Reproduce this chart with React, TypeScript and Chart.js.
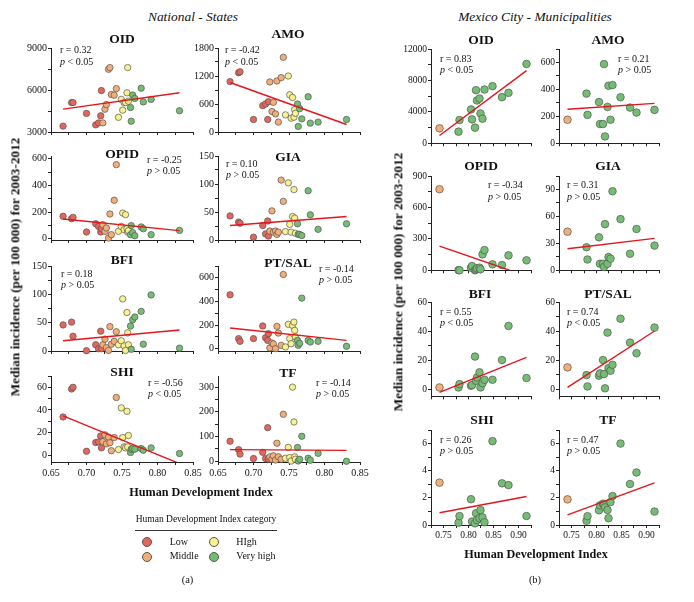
import React, { useEffect, useRef } from 'react';
import { Chart, registerables } from 'chart.js';

Chart.register(...registerables);

const SERIF = "'Liberation Serif', 'Times New Roman', Times, serif";

// ---------------- DATA ----------------
const DISEASES = ['OID', 'AMO', 'OPID', 'GIA', 'BFI', 'PT/SAL', 'SHI', 'TF'];
const LEGEND_LABELS = ['Low', 'Middle', 'HIgh', 'Very high'];
const CATEGORY_COLORS = ['#E5665C', '#F3AD76', '#F7F28E', '#74BE74'];

// National - States (32 states), HDI and HDI category (0 Low, 1 Middle, 2 High, 3 Very high)
const STATE_HDI = [
  0.667, 0.679, 0.681, 0.700, 0.713, 0.717, 0.720, 0.721,
  0.723, 0.726, 0.728, 0.731, 0.733, 0.735, 0.739, 0.742,
  0.745, 0.749, 0.751, 0.753, 0.755, 0.757, 0.758, 0.759,
  0.762, 0.763, 0.765, 0.768, 0.777, 0.780, 0.791, 0.831,
];
const STATE_CATEGORY = [
  0, 0, 0, 0, 0, 0, 0, 0,
  1, 1, 1, 1, 1, 1, 1, 1,
  2, 2, 2, 2, 2, 2, 2, 2,
  3, 3, 3, 3, 3, 3, 3, 3,
];
const NAT_OID = [3420, 5100, 5100, 4330, 3510, 3650, 4160, 5960, 3650, 4630, 4960, 7480, 7600, 5680, 5630, 6100, 4050, 5330, 4560, 5100, 5100, 5800, 7600, 5200, 4750, 3770, 5640, 5400, 6130, 5150, 5330, 4520];
const NAT_AMO = [1080, 1270, 1290, 268, 565, 600, 268, 650, 1073, 438, 635, 388, 1094, 212, 1165, 1600, 367, 1200, 797, 296, 740, 318, 480, 400, 600, 120, 500, 282, 755, 190, 212, 268];
const NAT_OPID = [168, 150, 160, 50, 112, 92, 50, 75, 105, 55, 80, 5, 185, 30, 288, 555, 55, 92, 192, 68, 180, 75, 50, 60, 30, 98, 45, 22, 88, 75, 30, 62];
const NAT_GIA = [43, 32, 30, 5, 26, 11, 34, 7, 16, 52, 14, 16, 10, 14, 107, 69, 15, 102, 28, 14, 42, 90, 39, 12, 29, 10, 10, 8, 88, 45, 19, 29];
const NAT_BFI = [46, 51, 26, 0.5, 11, 4, 35, 4, 11, 21, 6, 1, 43, 12, 17, 34, 11, 18, 92, 9, 1, 68, 32, 11, 44, 3, 55, 60, 70, 12, 99, 5];
const NAT_PTSAL = [456, 85, 62, 85, 192, 93, 70, 127, 6, 48, 40, 0, 189, 132, 28, 628, 14, 206, 85, 42, 197, 225, 155, 100, 70, 28, 45, 428, 70, 56, 62, 20];
const NAT_SHI = [33.8, 58.5, 60, 3.5, 11.2, 11.8, 17, 6.5, 12, 18, 10, 16, 11, 4, 15.6, 51, 5, 41.8, 15.6, 7.4, 6.5, 38.8, 7.4, 17.4, 2.4, 5.3, 5.9, 5.3, 5.9, 4.4, 6.5, 1.5];
const NAT_TF = [81, 47, 29, 11, 36, 11, 136, 8, 18, 8, 22, 5, 73, 18, 8, 190, 12, 56, 15, 1, 300, 159, 18, 8, 56, 1, 8, 101, 12, 4, 32, 0];

// Regression lines (value at lowest and highest HDI)
const NAT_FIT_X = [0.667, 0.831];
const NAT_OID_FIT = [4630, 5800];
const NAT_AMO_FIT = [1060, 160];
const NAT_OPID_FIT = [147, 60];
const NAT_GIA_FIT = [26, 42];
const NAT_BFI_FIT = [18, 37];
const NAT_PTSAL_FIT = [175, 70];
const NAT_SHI_FIT = [34.7, -7.4];
const NAT_TF_FIT = [47, 44];

const NAT_R = ['0.32', '-0.42', '-0.25', '0.10', '0.18', '-0.14', '-0.56', '-0.14'];
const NAT_P = ['<', '<', '>', '>', '>', '>', '<', '>'];

// Mexico City - Municipalities (16)
const MC_HDI = [0.742, 0.780, 0.782, 0.805, 0.807, 0.813, 0.815, 0.817, 0.822, 0.824, 0.828, 0.832, 0.848, 0.867, 0.880, 0.916];
const MC_CATEGORY = [1, 3, 3, 3, 3, 3, 3, 3, 3, 3, 3, 3, 3, 3, 3, 3];
const MC_OID = [1900, 1480, 2960, 4310, 3040, 1990, 6760, 5450, 5700, 3800, 3130, 6840, 7270, 5870, 6420, 10100];
const MC_AMO = [175, 369, 211, 306, 143, 143, 588, 51, 270, 427, 175, 432, 342, 265, 228, 248];
const MC_OPID = [774, 2, 0, 25, 41, 0, 9, 19, 25, 10, 152, 193, 57, 50, 142, 95];
const MC_GIA = [43, 25.7, 12, 36.7, 7.3, 7.3, 3.7, 51.4, 7.3, 14.7, 13, 88, 57, 18.4, 46, 27.5];
const MC_BFI = [1.1, 1.1, 3.4, 2.3, 2.7, 22.4, 5.7, 8, 11.5, 1.1, 4, 6.4, 6.4, 20, 43.5, 7.6];
const MC_PTSAL = [14.9, 9.6, 1.8, 9.2, 10.8, 20, 10.3, 0.5, 38.9, 14.4, 12.6, 16.7, 48.5, 32, 24.7, 42.4];
const MC_SHI = [3.12, 0.17, 0.66, 1.9, 0.25, 0.12, 0.86, 0.37, 0.5, 1.1, 0.56, 0.2, 6.18, 3.07, 2.94, 0.66];
const MC_TF = [1.89, 0.31, 0.65, 1.09, 1.45, 1.57, 1.5, 1.3, 1.11, 0.5, 1.69, 2.13, 6.0, 3.02, 3.87, 0.99];

const MC_FIT_X = [0.742, 0.916];
const MC_OID_FIT = [1000, 9250];
const MC_AMO_FIT = [253, 296];
const MC_OPID_FIT = [230, -55];
const MC_GIA_FIT = [24, 35.6];
const MC_BFI_FIT = [-2.3, 21.8];
const MC_PTSAL_FIT = [1.1, 40];
const MC_SHI_FIT = [0.9, 2.1];
const MC_TF_FIT = [0.75, 3.1];

const MC_R = ['0.83', '0.21', '-0.34', '0.31', '0.55', '0.74', '0.26', '0.47'];
const MC_P = ['<', '>', '>', '>', '<', '<', '>', '>'];

// Axis ranges: [min, max, tick step, label step]
const NAT_X_AXIS = [0.65, 0.85, 0.025, 0.05];
const MC_X_AXIS = [0.725, 0.925, 0.025, 0.05];
const NAT_Y_AXES = [
  [3000, 9000, 1500, 3000], [0, 1800, 300, 600], [-10, 620, 100, 200], [0, 150, 25, 50],
  [0, 150, 25, 50], [-20, 700, 100, 200], [-6, 70, 10, 20], [-3, 345, 50, 100],
];
const MC_Y_AXES = [
  [0, 12000, 2000, 4000], [0, 700, 100, 200], [0, 900, 150, 300], [0, 105, 15, 30],
  [-5, 60, 10, 20], [-5, 60, 10, 20], [0, 7, 1, 2], [0, 7, 1, 2],
];

// ---------------- LAYOUT ----------------
const NAT_COL_L = [51, 218];
const NAT_W = 142;
const NAT_ROW_T = [48, 156, 266, 376];
const NAT_ROW_H = [85, 85, 86, 86];
const MC_COL_L = [431, 559];
const MC_W = 100;
const MC_ROW_T = [49, 176, 302, 430];
const MC_ROW_H = [95, 95, 95, 95];

const NAT_TITLE_POS = [[122, 39], [288, 33.5], [122, 153.5], [288, 157], [122, 260], [288, 263], [122, 372], [288, 372.5]];
const MC_TITLE_POS = [[481, 39.5], [608, 39.5], [481, 166], [608, 166], [480, 293.5], [608, 293.5], [482, 419.5], [608, 419.5]];
const NAT_NOTE_POS = [[60, 50], [225, 50], [147, 159.5], [226, 163.5], [61, 273.5], [319, 268.5], [148, 382.5], [316, 382.5]];
const MC_NOTE_POS = [[440, 58.5], [618, 58.5], [488, 185], [567, 185], [440, 311.5], [567, 311.5], [440, 439.5], [567, 439.5]];

const Y_AXIS_W = 34;
const PAD_TOP = 8;
const PAD_RIGHT = 12;

type Spec = {
  key: string;
  xs: number[];
  cats: number[];
  ys: number[];
  fitX: number[];
  fitY: number[];
  xAxis: number[];
  yAxis: number[];
  left: number;
  top: number;
  w: number;
  h: number;
  showX: boolean;
  pointR: number;
  tickSize: number;
};

const isMult = (v: number, step: number) => Math.abs(v / step - Math.round(v / step)) < 1e-6;
const makeTicks = (min: number, max: number, step: number) => {
  const out: { value: number }[] = [];
  const start = Math.ceil(min / step - 1e-9);
  for (let k = start; k * step <= max + 1e-9; k++) out.push({ value: Math.round(k * step * 1e6) / 1e6 });
  return out;
};

function Plot({ spec }: { spec: Spec }) {
  const ref = useRef<HTMLCanvasElement>(null);
  const xh = spec.showX ? 18 : 6;
  const cw = Y_AXIS_W + spec.w + PAD_RIGHT;
  const ch = PAD_TOP + spec.h + xh;
  useEffect(() => {
    const [xmin, xmax, xstep, xlab] = spec.xAxis;
    const [ymin, ymax, ystep, ylab] = spec.yAxis;
    const chart = new Chart(ref.current as HTMLCanvasElement, {
      type: 'scatter',
      data: {
        datasets: [
          {
            data: [
              { x: spec.fitX[0], y: spec.fitY[0] },
              { x: spec.fitX[1], y: spec.fitY[1] },
            ],
            showLine: true,
            borderColor: '#E3161C',
            borderWidth: 1.4,
            pointRadius: 0,
            order: 0,
          },
          {
            data: spec.xs.map((x, i) => ({ x, y: spec.ys[i] })),
            pointBackgroundColor: spec.cats.map((c) => CATEGORY_COLORS[c]),
            pointBorderColor: '#555555',
            pointBorderWidth: 0.7,
            pointRadius: spec.pointR,
            clip: false,
            order: 1,
          } as any,
        ],
      },
      options: {
        animation: false,
        responsive: false,
        devicePixelRatio: 1,
        layout: { padding: { top: PAD_TOP, right: PAD_RIGHT, left: 0, bottom: 0 } },
        plugins: { legend: { display: false }, tooltip: { enabled: false } },
        scales: {
          x: {
            type: 'linear',
            min: xmin,
            max: xmax,
            afterBuildTicks: (s: any) => { s.ticks = makeTicks(xmin, xmax, xstep); },
            afterFit: (s: any) => { s.height = xh; },
            ticks: {
              autoSkip: false,
              maxRotation: 0,
              padding: 2,
              color: '#111',
              font: { family: SERIF, size: spec.tickSize },
              callback: (v: any) => (spec.showX && isMult(Number(v), xlab) ? Number(v).toFixed(2) : ''),
            },
            grid: { display: true, drawOnChartArea: false, drawTicks: true, tickLength: 3, color: '#222', tickColor: '#222' },
            border: { display: true, color: '#222', width: 1 },
          },
          y: {
            type: 'linear',
            min: ymin,
            max: ymax,
            afterBuildTicks: (s: any) => { s.ticks = makeTicks(ymin, ymax, ystep); },
            afterFit: (s: any) => { s.width = Y_AXIS_W; },
            ticks: {
              autoSkip: false,
              padding: 1,
              color: '#111',
              font: { family: SERIF, size: spec.tickSize },
              callback: (v: any) => (isMult(Number(v), ylab) ? String(Math.round(Number(v))) : ''),
            },
            grid: { display: true, drawOnChartArea: false, drawTicks: true, tickLength: 3, color: '#222', tickColor: '#222' },
            border: { display: true, color: '#222', width: 1 },
          },
        },
      } as any,
    });
    return () => chart.destroy();
  }, []);
  return (
    <canvas
      ref={ref}
      width={cw}
      height={ch}
      style={{ position: 'absolute', left: spec.left - Y_AXIS_W, top: spec.top - PAD_TOP, width: cw, height: ch }}
    />
  );
}

const NAT_VALUES = [NAT_OID, NAT_AMO, NAT_OPID, NAT_GIA, NAT_BFI, NAT_PTSAL, NAT_SHI, NAT_TF];
const NAT_FITS = [NAT_OID_FIT, NAT_AMO_FIT, NAT_OPID_FIT, NAT_GIA_FIT, NAT_BFI_FIT, NAT_PTSAL_FIT, NAT_SHI_FIT, NAT_TF_FIT];
const MC_VALUES = [MC_OID, MC_AMO, MC_OPID, MC_GIA, MC_BFI, MC_PTSAL, MC_SHI, MC_TF];
const MC_FITS = [MC_OID_FIT, MC_AMO_FIT, MC_OPID_FIT, MC_GIA_FIT, MC_BFI_FIT, MC_PTSAL_FIT, MC_SHI_FIT, MC_TF_FIT];

const natSpecs: Spec[] = DISEASES.map((d, i) => ({
  key: 'n' + i,
  xs: STATE_HDI,
  cats: STATE_CATEGORY,
  ys: NAT_VALUES[i],
  fitX: NAT_FIT_X,
  fitY: NAT_FITS[i],
  xAxis: NAT_X_AXIS,
  yAxis: NAT_Y_AXES[i],
  left: NAT_COL_L[i % 2],
  top: NAT_ROW_T[Math.floor(i / 2)],
  w: NAT_W,
  h: NAT_ROW_H[Math.floor(i / 2)],
  showX: i >= 6,
  pointR: 3.2,
  tickSize: 10,
}));

const mcSpecs: Spec[] = DISEASES.map((d, i) => ({
  key: 'm' + i,
  xs: MC_HDI,
  cats: MC_CATEGORY,
  ys: MC_VALUES[i],
  fitX: MC_FIT_X,
  fitY: MC_FITS[i],
  xAxis: MC_X_AXIS,
  yAxis: MC_Y_AXES[i],
  left: MC_COL_L[i % 2],
  top: MC_ROW_T[Math.floor(i / 2)],
  w: MC_W,
  h: MC_ROW_H[Math.floor(i / 2)],
  showX: i >= 6,
  pointR: 3.8,
  tickSize: 9.5,
}));

const txt = (x: number, y: number, content: React.ReactNode, style: React.CSSProperties = {}) => (
  <div
    style={{
      position: 'absolute',
      left: x,
      top: y,
      transform: 'translate(-50%, -50%)',
      whiteSpace: 'nowrap',
      fontFamily: SERIF,
      color: '#111',
      lineHeight: 1,
      ...style,
    }}
  >
    {content}
  </div>
);

function Note({ x, y, r, p }: { x: number; y: number; r: string; p: string }) {
  return (
    <div style={{ position: 'absolute', left: x, top: y - 5.75, fontFamily: SERIF, fontSize: 10, lineHeight: '11.5px', color: '#111', whiteSpace: 'nowrap' }}>
      <div>r = {r}</div>
      <div><i>p</i> {p} 0.05</div>
    </div>
  );
}

const LEGEND_POS = [[146.7, 541.7], [146.7, 556], [213.3, 541.7], [213.3, 556]];

export default function App() {
  return (
    <div style={{ position: 'absolute', left: 0, top: 0, width: 694, height: 602, background: '#fff', overflow: 'hidden', fontFamily: SERIF }}>
      {natSpecs.map((s) => <Plot key={s.key} spec={s} />)}
      {mcSpecs.map((s) => <Plot key={s.key} spec={s} />)}

      {txt(193, 16.5, 'National - States', { fontStyle: 'italic', fontSize: 13.4 })}
      {txt(535, 16.5, 'Mexico City - Municipalities', { fontStyle: 'italic', fontSize: 13.4 })}

      {DISEASES.map((d, i) => (
        <React.Fragment key={'t' + i}>
          {txt(NAT_TITLE_POS[i][0], NAT_TITLE_POS[i][1], d, { fontWeight: 'bold', fontSize: 13.5 })}
          {txt(MC_TITLE_POS[i][0], MC_TITLE_POS[i][1], d, { fontWeight: 'bold', fontSize: 13.5 })}
          <Note x={NAT_NOTE_POS[i][0]} y={NAT_NOTE_POS[i][1]} r={NAT_R[i]} p={NAT_P[i]} />
          <Note x={MC_NOTE_POS[i][0]} y={MC_NOTE_POS[i][1]} r={MC_R[i]} p={MC_P[i]} />
        </React.Fragment>
      ))}

      {txt(15, 267, 'Median incidence (per 100 000) for 2003-2012', { fontWeight: 'bold', fontSize: 13.3, transform: 'translate(-50%, -50%) rotate(-90deg)' })}
      {txt(398, 282, 'Median incidence (per 100 000) for 2003-2012', { fontWeight: 'bold', fontSize: 13.3, transform: 'translate(-50%, -50%) rotate(-90deg)' })}

      {txt(201, 492, 'Human Development Index', { fontWeight: 'bold', fontSize: 12.2 })}
      {txt(536, 554, 'Human Development Index', { fontWeight: 'bold', fontSize: 12.2 })}

      {txt(206, 520, 'Human Development Index category', { fontSize: 9.5 })}
      <div style={{ position: 'absolute', left: 135, top: 530, width: 142, height: 1, background: '#333' }} />
      {LEGEND_LABELS.map((lab, i) => (
        <React.Fragment key={'lg' + i}>
          <div
            style={{
              position: 'absolute',
              left: LEGEND_POS[i][0] - 4.5,
              top: LEGEND_POS[i][1] - 4.5,
              width: 8,
              height: 8,
              borderRadius: '50%',
              background: CATEGORY_COLORS[i],
              border: '0.7px solid #555',
            }}
          />
          <div style={{ position: 'absolute', left: LEGEND_POS[i][0] + 23, top: LEGEND_POS[i][1] - 6, fontSize: 10, lineHeight: '12px', color: '#111', whiteSpace: 'nowrap' }}>{lab}</div>
        </React.Fragment>
      ))}

      {txt(187.5, 580, '(a)', { fontSize: 10.5 })}
      {txt(535, 580, '(b)', { fontSize: 10.5 })}
    </div>
  );
}
